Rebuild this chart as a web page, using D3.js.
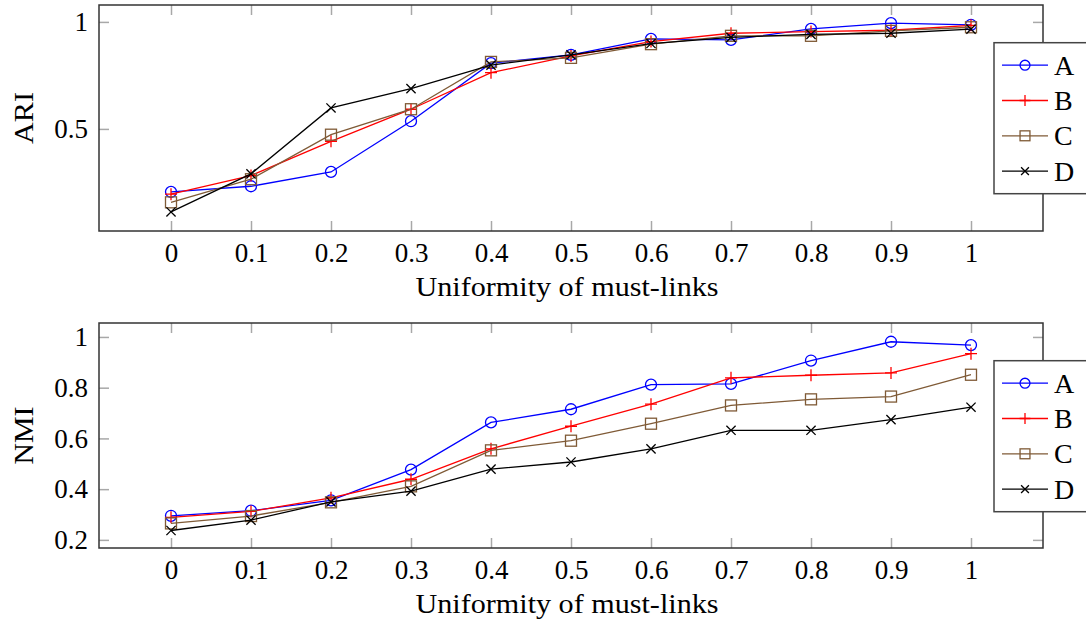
<html>
<head>
  <title>ARI / NMI vs uniformity</title>
  <script src="https://d3js.org/d3.v7.min.js"></script>
  <style>
    body { margin: 0; background: #fff; }
    text { font-family: "Liberation Serif", "DejaVu Serif", serif; fill: #000; }
  </style>
</head>
<body>
  <div id="vis"></div>

  <script type="text/javascript">
    // data
    var uniformity = [0, 0.1, 0.2, 0.3, 0.4, 0.5, 0.6, 0.7, 0.8, 0.9, 1];
    var seriesNames = ['A', 'B', 'C', 'D'];

    var ariA = [0.206, 0.232, 0.299, 0.536, 0.807, 0.846, 0.921, 0.916, 0.967, 0.994, 0.986];
    var ariB = [0.195, 0.282, 0.442, 0.592, 0.763, 0.841, 0.908, 0.947, 0.955, 0.961, 0.984];
    var ariC = [0.157, 0.265, 0.473, 0.592, 0.813, 0.832, 0.896, 0.935, 0.935, 0.958, 0.975];
    var ariD = [0.112, 0.290, 0.598, 0.688, 0.798, 0.846, 0.899, 0.928, 0.942, 0.947, 0.966];

    var nmiA = [0.295, 0.315, 0.356, 0.477, 0.663, 0.715, 0.812, 0.815, 0.907, 0.981, 0.968];
    var nmiB = [0.289, 0.312, 0.366, 0.439, 0.559, 0.648, 0.735, 0.839, 0.849, 0.858, 0.934];
    var nmiC = [0.265, 0.294, 0.348, 0.411, 0.553, 0.591, 0.658, 0.730, 0.754, 0.765, 0.851];
    var nmiD = [0.237, 0.278, 0.350, 0.392, 0.479, 0.507, 0.559, 0.632, 0.632, 0.674, 0.723];

    var xTicks = [0, 0.1, 0.2, 0.3, 0.4, 0.5, 0.6, 0.7, 0.8, 0.9, 1];
    var ariTicks = [0.5, 1];
    var nmiTicks = [0.2, 0.4, 0.6, 0.8, 1];

    var colors = ['#0000ff', '#ff0000', '#7f5a36', '#000000'];
    var markers = ['circle', 'plus', 'square', 'cross'];

    var fontList = '"Liberation Serif", "DejaVu Serif", serif';

    var fullW = 1086, fullH = 628;
    var svg = d3.select('#vis')
                .append('svg')
                  .attr('width', fullW)
                  .attr('height', fullH);

    function drawMarker(g, type, color, cx, cy, s) {
      if (type == 'circle') {
        g.append('circle').attr('cx', cx).attr('cy', cy).attr('r', 5.5 * s)
          .attr('fill', 'none').attr('stroke', color).attr('stroke-width', 1.3);
      } else if (type == 'square') {
        g.append('rect').attr('x', cx - 5.5 * s).attr('y', cy - 5.5 * s)
          .attr('width', 11 * s).attr('height', 11 * s)
          .attr('fill', 'none').attr('stroke', color).attr('stroke-width', 1.3);
      } else if (type == 'plus') {
        var a = 6 * s;
        g.append('path').attr('d', 'M' + (cx - a) + ',' + cy + 'H' + (cx + a) + 'M' + cx + ',' + (cy - a) + 'V' + (cy + a))
          .attr('stroke', color).attr('stroke-width', 1.3).attr('fill', 'none');
      } else {
        var b = 4.6 * s;
        g.append('path').attr('d', 'M' + (cx - b) + ',' + (cy - b) + 'L' + (cx + b) + ',' + (cy + b) +
                                   'M' + (cx - b) + ',' + (cy + b) + 'L' + (cx + b) + ',' + (cy - b))
          .attr('stroke', color).attr('stroke-width', 1.3).attr('fill', 'none');
      }
    }

    function drawPanel(top, bottom, yDomain, yTicks, yLabel, ylabelLen, seriesList) {
      var left = 99, right = 1043;
      var width = right - left, height = bottom - top;

      var x = d3.scaleLinear().domain([-0.09, 1.09]).range([0, width]);
      var y = d3.scaleLinear().domain(yDomain).range([height, 0]);

      var g = svg.append('g').attr('transform', 'translate(' + left + ',' + top + ')');

      // inward ticks on all four sides
      var xb = d3.axisBottom(x).tickValues(xTicks).tickSizeInner(-10).tickSizeOuter(0)
                 .tickPadding(12).tickFormat(function(d) { return String(d); });
      var xt = d3.axisTop(x).tickValues(xTicks).tickSizeInner(-10).tickSizeOuter(0).tickFormat('');
      var yl = d3.axisLeft(y).tickValues(yTicks).tickSizeInner(-10).tickSizeOuter(0)
                 .tickPadding(11).tickFormat(function(d) { return String(d); });
      var yr = d3.axisRight(y).tickValues(yTicks).tickSizeInner(-10).tickSizeOuter(0).tickFormat('');

      var axes = [
        g.append('g').attr('transform', 'translate(0,' + height + ')').call(xb),
        g.append('g').call(xt),
        g.append('g').call(yl),
        g.append('g').attr('transform', 'translate(' + width + ',0)').call(yr)
      ];
      axes.forEach(function(a) {
        a.attr('font-family', null).attr('font-size', null);
        a.select('.domain').remove();
        a.selectAll('.tick line').attr('stroke', '#a8a8a8').attr('stroke-width', 1.5);
        a.selectAll('.tick text').attr('fill', '#000')
          .style('font-size', '27px')
          .style('font-family', fontList);
      });

      // the lines and marks
      var line = d3.line()
                   .x(function(d) { return x(d.u); })
                   .y(function(d) { return y(d.v); });

      seriesList.forEach(function(vals, i) {
        var pts = uniformity.map(function(u, k) { return {u: u, v: vals[k]}; });
        g.append('path')
          .attr('d', line(pts))
          .attr('fill', 'none')
          .attr('stroke', colors[i])
          .attr('stroke-width', 1.3);
        var mg = g.append('g');
        pts.forEach(function(p) { drawMarker(mg, markers[i], colors[i], x(p.u), y(p.v), 1); });
      });

      // frame
      g.append('rect')
        .attr('x', 0).attr('y', 0).attr('width', width).attr('height', height)
        .attr('fill', 'none').attr('stroke', '#333').attr('stroke-width', 1.5);

      // axis labels
      g.append('text')
        .text('Uniformity of must-links')
        .attr('x', width / 2 - 4)
        .attr('y', height + 65)
        .attr('text-anchor', 'middle')
        .attr('textLength', 303)
        .attr('lengthAdjust', 'spacingAndGlyphs')
        .style('font-family', fontList)
        .style('font-size', '27px');

      g.append('text')
        .text(yLabel)
        .attr('transform', 'translate(' + (33 - left) + ',' + (height / 2) + ') rotate(-90)')
        .attr('text-anchor', 'middle')
        .attr('textLength', ylabelLen)
        .attr('lengthAdjust', 'spacingAndGlyphs')
        .style('font-family', fontList)
        .style('font-size', '27px');

      // legend, sticking out past the right edge
      var lg = svg.append('g').attr('transform', 'translate(994,' + (top + 37.7) + ')');
      lg.append('rect')
        .attr('x', 0).attr('y', 0).attr('width', 120).attr('height', 151)
        .attr('fill', '#fff').attr('stroke', '#444').attr('stroke-width', 1.5);
      seriesNames.forEach(function(name, i) {
        var cy = 22.5 + i * 35.3;
        lg.append('line')
          .attr('x1', 8).attr('x2', 54).attr('y1', cy).attr('y2', cy)
          .attr('stroke', colors[i]).attr('stroke-width', 1.3);
        drawMarker(lg, markers[i], colors[i], 31, cy, markers[i] == 'cross' ? 0.85 : 0.9);
        lg.append('text')
          .text(name)
          .attr('x', 60)
          .attr('y', cy + 9.5)
          .style('font-family', fontList)
          .style('font-size', '28px');
      });
    }

    drawPanel(5, 231, [0.023, 1.079], ariTicks, 'ARI', 52, [ariA, ariB, ariC, ariD]);
    drawPanel(323, 548, [0.168, 1.055], nmiTicks, 'NMI', 58, [nmiA, nmiB, nmiC, nmiD]);
  </script>
</body>
</html>
